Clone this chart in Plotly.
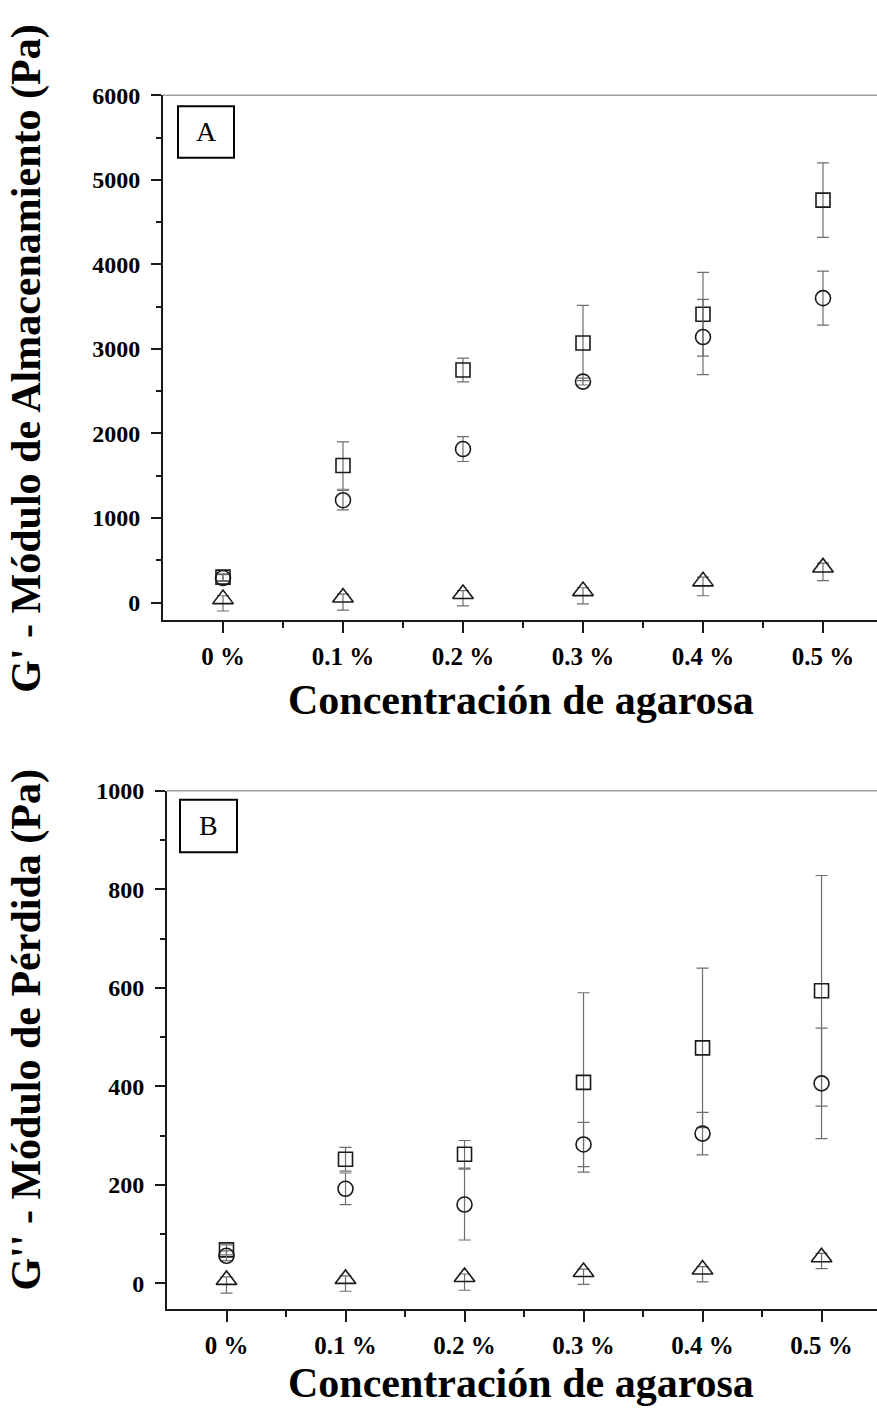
import plotly.graph_objects as go

# Concentraciones de agarosa (eje x categórico)
categorias = ["0 %", "0.1 %", "0.2 %", "0.3 %", "0.4 %", "0.5 %"]
posiciones = list(range(len(categorias)))

# G' - módulo de almacenamiento (Pa): media y desviación (superior / inferior)
gp_cuadrado = [300, 1620, 2750, 3070, 3410, 4760]
gp_cuadrado_err = [40, 280, 140, 445, 495, 440]
gp_circulo = [290, 1210, 1815, 2613, 3140, 3600]
gp_circulo_err = [40, 115, 147, 40, 445, 320]
gp_triangulo = [40, 60, 100, 135, 250, 415]
gp_triangulo_err_sup = [40, 40, 40, 40, 50, 50]
gp_triangulo_err_inf = [140, 150, 140, 150, 170, 155]

# G'' - módulo de pérdida (Pa): media y desviación (superior / inferior)
gpp_cuadrado = [68, 252, 262, 408, 478, 594]
gpp_cuadrado_err = [10, 24, 28, 182, 162, 234]
gpp_circulo = [56, 192, 160, 282, 304, 406]
gpp_circulo_err = [10, 32, 72, 45, 43, 112]
gpp_triangulo = [7, 9, 13, 23, 28, 53]
gpp_triangulo_err_sup = [6, 6, 6, 6, 6, 8]
gpp_triangulo_err_inf = [27, 25, 27, 25, 25, 23]

W, H = 877, 1413
SERIF = "Liberation Serif, Times New Roman, serif"
NEGRO = "#1a1a1a"
GRIS_ERR = "#6e6e6e"


def px_x(p):
    return p / W


def px_y(p):
    return 1 - p / H


fig = go.Figure()

series = [
    ("x", "y", gp_cuadrado, gp_cuadrado_err, gp_cuadrado_err, "square-open", 14),
    ("x", "y", gp_circulo, gp_circulo_err, gp_circulo_err, "circle-open", 15),
    ("x", "y", gp_triangulo, gp_triangulo_err_sup, gp_triangulo_err_inf, "triangle-up-open", 18),
    ("x2", "y2", gpp_cuadrado, gpp_cuadrado_err, gpp_cuadrado_err, "square-open", 14),
    ("x2", "y2", gpp_circulo, gpp_circulo_err, gpp_circulo_err, "circle-open", 15),
    ("x2", "y2", gpp_triangulo, gpp_triangulo_err_sup, gpp_triangulo_err_inf, "triangle-up-open", 18),
]
for xa, ya, vals, err_sup, err_inf, simbolo, tam in series:
    fig.add_trace(go.Scatter(
        x=posiciones, y=vals, xaxis=xa, yaxis=ya, mode="markers",
        marker=dict(symbol=simbolo, size=tam, color=NEGRO, line=dict(width=1.6, color=NEGRO)),
        error_y=dict(type="data", symmetric=False, array=err_sup, arrayminus=err_inf,
                     visible=True, color=GRIS_ERR, thickness=1.2, width=6),
        showlegend=False, cliponaxis=False,
    ))

eje_x = dict(
    tickmode="array", tickvals=posiciones, ticktext=categorias,
    ticks="outside", ticklen=11, tickwidth=2, tickcolor=NEGRO,
    minor=dict(tickvals=[p + 0.5 for p in posiciones[:-1]], ticks="outside",
               ticklen=6, tickwidth=2, tickcolor=NEGRO),
    showline=True, linecolor=NEGRO, linewidth=2, showgrid=False, zeroline=False,
    tickfont=dict(family=SERIF, size=25, color="black", weight="bold"),
    ticklabelstandoff=2,
)
eje_y = dict(
    ticks="outside", ticklen=10, tickwidth=2, tickcolor=NEGRO,
    showline=True, linecolor=NEGRO, linewidth=2, showgrid=False, zeroline=False,
    tickfont=dict(family=SERIF, size=24, color="black", weight="bold"),
    ticklabelstandoff=6,
)

fig.update_layout(
    width=W, height=H, margin=dict(l=0, r=0, t=0, b=0),
    paper_bgcolor="white", plot_bgcolor="white",
    xaxis=dict(eje_x, domain=[px_x(163), 1], range=[-0.5, 5.45], anchor="y"),
    yaxis=dict(eje_y, domain=[px_y(613), px_y(83)], range=[-211, 6000], anchor="x",
               tickvals=[0, 1000, 2000, 3000, 4000, 5000, 6000],
               minor=dict(tickvals=[500, 1500, 2500, 3500, 4500, 5500], ticks="outside",
                          ticklen=5, tickwidth=2, tickcolor=NEGRO)),
    xaxis2=dict(eje_x, domain=[px_x(167), 1], range=[-0.5, 5.466], anchor="y2"),
    yaxis2=dict(eje_y, domain=[px_y(1308), px_y(785)], range=[-52, 1000], anchor="x2",
                tickvals=[0, 200, 400, 600, 800, 1000],
                minor=dict(tickvals=[100, 300, 500, 700, 900], ticks="outside",
                           ticklen=5, tickwidth=2, tickcolor=NEGRO)),
)

# Línea superior gris de cada panel
for xr, yr in [("x domain", "y domain"), ("x2 domain", "y2 domain")]:
    fig.add_shape(type="line", xref=xr, yref=yr, x0=0, x1=1, y0=1, y1=1,
                  line=dict(color="#a0a0a0", width=1.5))

# Recuadros de identificación de panel
for letra, (x0, x1, y0, y1) in [("A", (178, 234, 94, 146)), ("B", (180, 237, 794, 847))]:
    fig.add_shape(type="rect", xref="paper", yref="paper",
                  x0=px_x(x0), x1=px_x(x1), y0=px_y(y1), y1=px_y(y0),
                  line=dict(color="black", width=2), fillcolor="white")
    fig.add_annotation(text=letra, xref="paper", yref="paper",
                       x=px_x((x0 + x1) / 2), y=px_y((y0 + y1) / 2),
                       xanchor="center", yanchor="middle",
                       showarrow=False, font=dict(family=SERIF, size=28, color="black"))

# Títulos de ejes
titulo_x = "Concentración de agarosa"
for yc in (693, 1383):
    fig.add_annotation(text=titulo_x, xref="paper", yref="paper",
                       x=px_x(521), y=px_y(yc), xanchor="center", yanchor="middle",
                       showarrow=False,
                       font=dict(family=SERIF, size=42, color="black", weight="bold"))

for texto, yc in [("G' - Módulo de Almacenamiento (Pa)", 349),
                  ("G'' - Módulo de Pérdida (Pa)", 1027)]:
    fig.add_annotation(text=texto, xref="paper", yref="paper",
                       x=px_x(27), y=px_y(yc), xanchor="center", yanchor="middle",
                       showarrow=False, textangle=-90,
                       font=dict(family=SERIF, size=42, color="black", weight="bold"))

fig.write_html("out.html")
